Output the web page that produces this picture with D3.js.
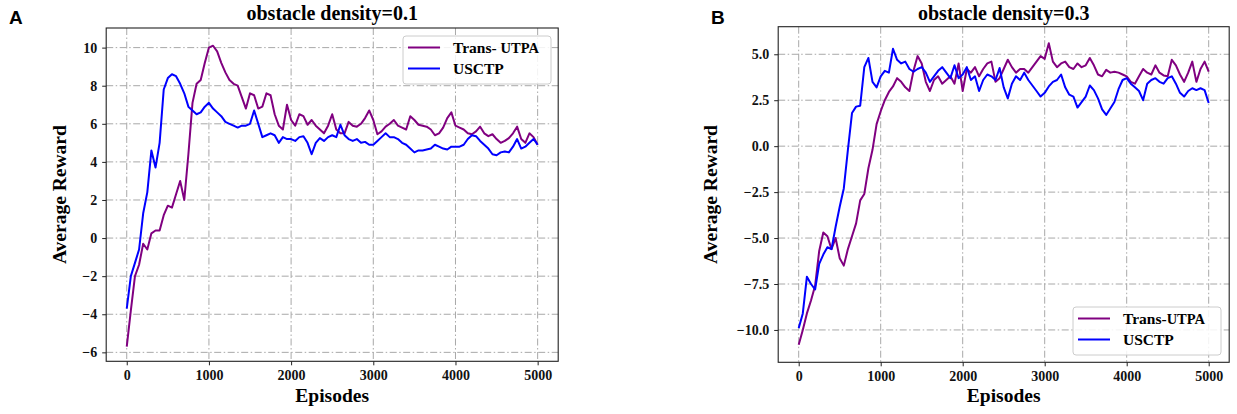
<!DOCTYPE html>
<html>
  <head lang="en">
    <meta charset="utf-8">
    <title>Average reward vs episodes</title>
    <script src="https://cdn.jsdelivr.net/npm/d3@7/dist/d3.min.js"></script>
    <style>
      body { margin: 0; background: #fff; }
      text { font-family: "Liberation Serif", "Times New Roman", serif; font-weight: bold; }
    </style>
  </head>
  <body>
    <script>

      // episodes sampled every 50 (x values shared by all series)
      var episodes = d3.range(0, 5001, 50);

      // panel A, obstacle density = 0.1
      var transA = [
        -5.7, -3.8, -2.0, -1.4, -0.3, -0.6, 0.25, 0.4, 0.4, 1.2,
        1.7, 1.6, 2.3, 3.0, 2.0, 4.4, 7.1, 8.1, 8.3, 9.2,
        10.0, 10.1, 9.8, 9.2, 8.7, 8.3, 8.1, 8.0, 7.4, 6.8,
        7.6, 7.5, 6.8, 6.9, 7.6, 7.5, 6.5, 5.9, 5.7, 7.0,
        6.2, 5.9, 6.5, 6.4, 5.95, 6.2, 5.9, 5.7, 5.5, 5.9,
        6.5, 5.7, 5.5, 5.5, 6.1, 5.9, 5.85, 6.0, 6.3, 6.7,
        6.2, 5.45, 5.6, 5.85, 6.0, 6.2, 5.9, 5.8, 5.7, 6.4,
        6.2, 5.95, 5.9, 5.85, 5.7, 5.4, 5.5, 5.8, 6.3, 6.6,
        5.9, 5.8, 5.7, 5.5, 5.45, 5.6, 5.85, 5.5, 5.35, 5.45,
        5.2, 5.0, 5.1, 5.25, 5.5, 5.85, 5.2, 5.0, 5.5, 5.3,
        4.9
      ];
      var usctpA = [
        -3.7, -2.0, -1.3, -0.6, 1.3, 2.4, 4.6, 3.7, 5.0, 7.8,
        8.4, 8.6, 8.5, 8.1, 7.6, 6.9, 6.7, 6.5, 6.6, 6.9,
        7.1, 6.8, 6.6, 6.4, 6.1, 6.0, 5.9, 5.8, 5.9, 5.9,
        6.0, 6.7, 6.0, 5.3, 5.4, 5.5, 5.4, 5.0, 5.3, 5.2,
        5.2, 5.1, 5.3, 5.35, 5.0, 4.4, 5.0, 5.25, 5.1, 5.3,
        5.4, 5.3, 5.95, 5.4, 5.2, 5.1, 5.2, 5.0, 5.05, 4.9,
        4.9, 5.1, 5.3, 5.5, 5.3, 5.3, 5.2, 5.0, 4.9, 4.7,
        4.5, 4.6, 4.6, 4.65, 4.7, 4.9, 4.8, 4.7, 4.65, 4.8,
        4.8, 4.8, 4.9, 5.2, 5.4, 5.35, 5.1, 4.9, 4.7, 4.4,
        4.35, 4.5, 4.55, 4.5, 4.8, 5.2, 4.7, 4.8, 5.0, 5.2,
        4.9
      ];

      // panel B, obstacle density = 0.3
      var transB = [
        -10.8, -10.0, -9.1, -8.4, -7.6, -5.7, -4.7, -4.9, -5.6, -5.0,
        -6.1, -6.5, -5.6, -4.9, -4.2, -2.95, -2.6, -1.2, -0.2, 1.2,
        1.9, 2.5, 2.95, 3.25, 3.7, 3.5, 3.2, 3.0, 4.1, 4.9,
        4.5, 3.5, 3.0, 3.6, 3.8, 3.4, 3.6, 3.8, 3.4, 4.5,
        3.0, 4.2, 4.0, 4.3, 3.8, 4.2, 4.5, 4.6, 3.5, 3.7,
        4.2, 4.7, 4.3, 4.0, 4.2, 4.2, 4.0, 4.3, 4.6, 4.9,
        4.75, 5.6, 4.6, 4.3, 4.5, 4.6, 4.3, 4.2, 4.5, 4.3,
        4.4, 4.8, 4.4, 3.9, 3.8, 4.15, 4.0, 4.05, 4.0, 3.9,
        3.8, 3.5, 3.4, 3.8, 4.2, 4.0, 3.9, 4.4, 4.0, 3.85,
        3.8, 4.7, 4.4, 3.9, 3.5, 4.0, 4.6, 3.5, 4.2, 4.6,
        4.05
      ];
      var usctpB = [
        -9.9, -9.1, -7.1, -7.5, -7.8, -6.4, -5.9, -5.5, -5.6, -4.4,
        -3.3, -2.3, -0.2, 1.8, 2.15, 2.2, 4.3, 4.8, 3.5, 3.2,
        3.8, 4.1, 4.0, 5.3, 4.7, 4.5, 4.6, 4.2, 4.05, 4.2,
        4.3, 4.0, 3.5, 3.8, 4.1, 4.3, 4.0, 3.7, 4.4, 3.7,
        3.9, 4.3, 3.6, 3.8, 3.0, 3.6, 3.9, 3.8, 3.6, 4.25,
        3.2, 2.6, 3.4, 3.8, 3.6, 4.0, 3.6, 3.3, 3.0, 2.7,
        2.9, 3.25, 3.5, 3.6, 3.9, 3.2, 2.8, 2.7, 2.1, 2.4,
        2.7, 3.3, 3.05, 2.6, 2.0, 1.7, 2.05, 2.4, 3.1, 3.6,
        3.7, 3.4, 3.2, 3.0, 2.5, 3.4, 3.6, 3.7, 3.5, 3.4,
        3.7, 3.8, 3.4, 2.9, 2.7, 3.0, 3.15, 3.05, 3.15, 3.05,
        2.35
      ];

      // tick values
      var xTicks = [0, 1000, 2000, 3000, 4000, 5000];
      var yTicksA = [-6, -4, -2, 0, 2, 4, 6, 8, 10];
      var yTicksB = [-10, -7.5, -5, -2.5, 0, 2.5, 5];

      var purple = "#800080";
      var blue = "#0000ff";

      var svg = d3.select("body")
                  .append("svg")
                  .attr("width", 1237)
                  .attr("height", 414);

      function drawPanel(p) {
        var x = d3.scaleLinear().domain([-250, 5250]).range([p.left, p.right]);
        var y = d3.scaleLinear().domain(p.yDomain).range([p.bottom, p.top]);

        var g = svg.append("g");

        // grid
        g.selectAll(".gx").data(xTicks).enter().append("line")
          .attr("x1", function(d) { return x(d); })
          .attr("x2", function(d) { return x(d); })
          .attr("y1", p.top).attr("y2", p.bottom)
          .attr("stroke", "#a8a8a8").attr("stroke-width", 1)
          .attr("stroke-dasharray", "7,2.5,1.5,2.5");
        g.selectAll(".gy").data(p.yTicks).enter().append("line")
          .attr("y1", function(d) { return y(d); })
          .attr("y2", function(d) { return y(d); })
          .attr("x1", p.left).attr("x2", p.right)
          .attr("stroke", "#a8a8a8").attr("stroke-width", 1)
          .attr("stroke-dasharray", "7,2.5,1.5,2.5");

        // series lines
        var line = d3.line()
          .x(function(d, i) { return x(episodes[i]); })
          .y(function(d) { return y(d); });

        g.append("path").datum(p.trans)
          .attr("d", line).attr("fill", "none")
          .attr("stroke", purple).attr("stroke-width", 2)
          .attr("stroke-linejoin", "round");
        g.append("path").datum(p.usctp)
          .attr("d", line).attr("fill", "none")
          .attr("stroke", blue).attr("stroke-width", 2)
          .attr("stroke-linejoin", "round");

        // frame
        g.append("rect")
          .attr("x", p.left).attr("y", p.top)
          .attr("width", p.right - p.left).attr("height", p.bottom - p.top)
          .attr("fill", "none").attr("stroke", "#222").attr("stroke-width", 1.1);

        // axes
        var xAxis = g.append("g")
          .attr("transform", "translate(0," + p.bottom + ")")
          .call(d3.axisBottom(x).tickValues(xTicks).tickSize(4).tickPadding(5).tickFormat(d3.format("d")));
        var yAxis = g.append("g")
          .attr("transform", "translate(" + p.left + ",0)")
          .call(d3.axisLeft(y).tickValues(p.yTicks).tickSize(4).tickPadding(5).tickFormat(d3.format(p.yFormat)));
        [xAxis, yAxis].forEach(function(a) {
          a.select(".domain").remove();
          a.selectAll("line").attr("stroke", "#222");
          a.selectAll("text")
            .attr("fill", "#111")
            .style("font-size", "14px")
            .style("font-family", "'Liberation Serif', serif")
            .style("font-weight", "bold");
        });

        // titles and labels
        g.append("text")
          .attr("x", (p.left + p.right) / 2).attr("y", 20)
          .attr("text-anchor", "middle").style("font-size", "20px")
          .text(p.title);
        g.append("text")
          .attr("x", (p.left + p.right) / 2).attr("y", 402)
          .attr("text-anchor", "middle").style("font-size", "19.5px")
          .text("Episodes");
        g.append("text")
          .attr("transform", "translate(" + (p.left - p.labelOffset) + "," + ((p.top + p.bottom) / 2) + ") rotate(-90)")
          .attr("text-anchor", "middle").style("font-size", "19.5px")
          .text("Average Reward");
        g.append("text")
          .attr("x", p.letterX).attr("y", 24)
          .style("font-family", "'Liberation Sans', Arial, sans-serif")
          .style("font-size", "19px")
          .text(p.letter);

        // legend
        var lg = g.append("g").attr("transform", "translate(" + p.legend[0] + "," + p.legend[1] + ")");
        lg.append("rect")
          .attr("width", 148).attr("height", 48).attr("rx", 3)
          .attr("fill", "#fff").attr("fill-opacity", 0.85)
          .attr("stroke", "#cccccc").attr("stroke-width", 1);
        [[purple, p.transLabel], [blue, ["USCTP", ""]]].forEach(function(item, i) {
          var yy = 11.5 + i * 21;
          lg.append("line")
            .attr("x1", 5).attr("x2", 37).attr("y1", yy).attr("y2", yy)
            .attr("stroke", item[0]).attr("stroke-width", 2);
          var t = lg.append("text")
            .attr("x", 50).attr("y", yy + 5.5)
            .style("font-size", "15.5px")
            .text(item[1][0]);
          if (item[1][1]) {
            t.append("tspan").style("font-size", "14.5px").text(item[1][1]);
          }
        });
      }

      drawPanel({
        left: 106.2, right: 558.2, top: 28, bottom: 361.3,
        yDomain: [-6.47, 11.03], yTicks: yTicksA, yFormat: "d", labelOffset: 40,
        trans: transA, usctp: usctpA,
        title: "obstacle density=0.1", letter: "A", letterX: 9,
        legend: [403, 36], transLabel: ["Trans- ", "UTPA"]
      });

      drawPanel({
        left: 778.2, right: 1229.2, top: 26.7, bottom: 362.3,
        yDomain: [-11.76, 6.5], yTicks: yTicksB, yFormat: ".1f", labelOffset: 61,
        trans: transB, usctp: usctpB,
        title: "obstacle density=0.3", letter: "B", letterX: 711,
        legend: [1073, 307], transLabel: ["Trans-", "UTPA"]
      });

    </script>
  </body>
</html>
